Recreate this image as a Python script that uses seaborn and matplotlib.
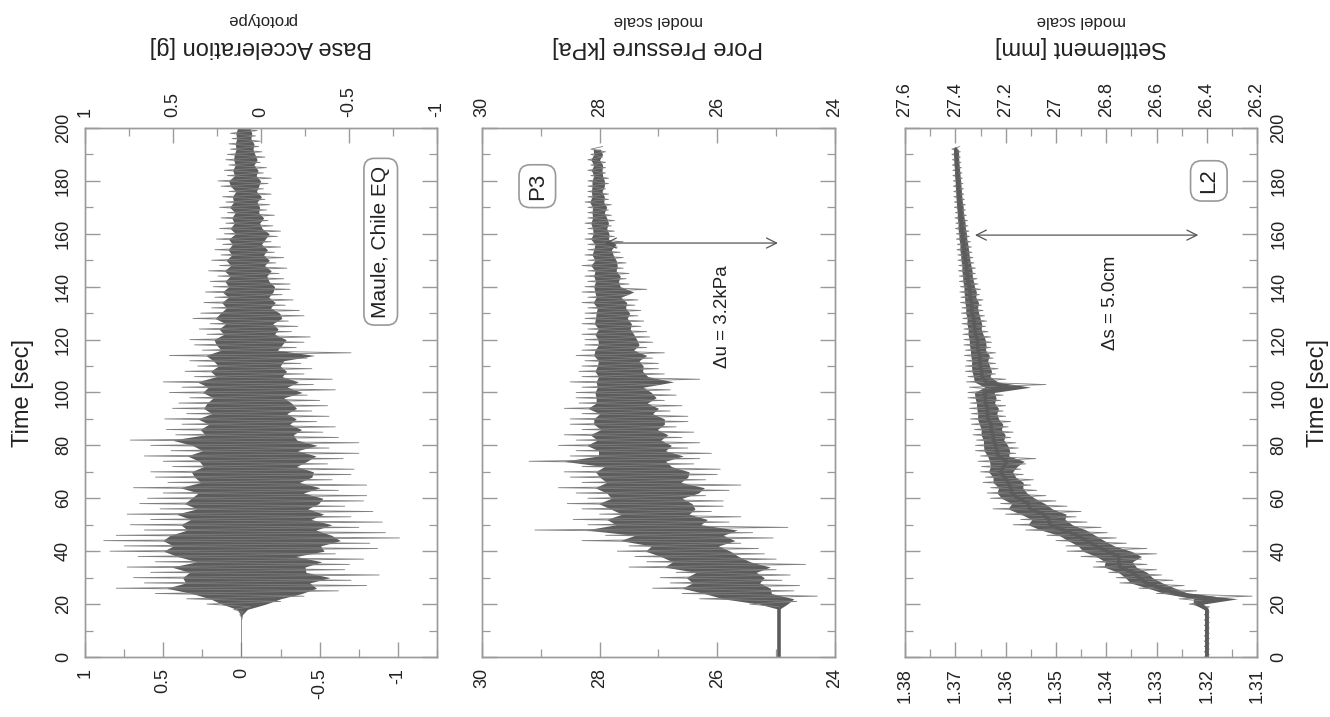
import numpy as np
import matplotlib
matplotlib.use("Agg")
import matplotlib.pyplot as plt
import seaborn as sns
from matplotlib.ticker import MultipleLocator

# ---- data read off the (rotated) reference figure ----
# every 2 s: upper and lower peaks of the recorded signal
acc_t = np.arange(0, 201, 2)
acc_hi = [0, 0, 0, 0, 0, 0, 0, 0, 0.01, 0.05,
          0.22, 0.35, 0.55, 0.80, 0.62, 0.69, 0.58, 0.73, 0.55, 0.66,
          0.84, 0.75, 0.88, 0.80, 0.62, 0.71, 0.58, 0.73, 0.52, 0.65,
          0.60, 0.50, 0.69, 0.47, 0.55, 0.58, 0.44, 0.50, 0.62, 0.45,
          0.58, 0.71, 0.42, 0.48, 0.38, 0.49, 0.35, 0.44, 0.40, 0.33,
          0.46, 0.38, 0.50, 0.30, 0.36, 0.28, 0.33, 0.46, 0.25, 0.30,
          0.33, 0.22, 0.27, 0.20, 0.31, 0.26, 0.19, 0.24, 0.17, 0.23,
          0.18, 0.20, 0.15, 0.21, 0.14, 0.19, 0.13, 0.17, 0.12, 0.16,
          0.11, 0.14, 0.10, 0.13, 0.09, 0.14, 0.10, 0.12, 0.08, 0.13,
          0.15, 0.09, 0.11, 0.08, 0.10, 0.09, 0.07, 0.08, 0.06, 0.07,
          0.05]
acc_lo = [0, 0, 0, 0, 0, 0, 0, 0, -0.01, -0.06,
          -0.25, -0.40, -0.62, -0.80, -0.70, -0.88, -0.66, -0.69, -0.78, -0.60,
          -0.87, -0.82, -1.01, -0.92, -0.75, -0.90, -0.70, -0.84, -0.66, -0.78,
          -0.80, -0.62, -0.80, -0.58, -0.70, -0.72, -0.55, -0.65, -0.75, -0.56,
          -0.75, -0.62, -0.52, -0.60, -0.48, -0.56, -0.45, -0.55, -0.50, -0.42,
          -0.60, -0.46, -0.58, -0.40, -0.45, -0.38, -0.42, -0.70, -0.35, -0.40,
          -0.44, -0.32, -0.36, -0.30, -0.40, -0.37, -0.28, -0.33, -0.26, -0.31,
          -0.31, -0.27, -0.24, -0.29, -0.22, -0.27, -0.21, -0.25, -0.19, -0.23,
          -0.25, -0.20, -0.17, -0.21, -0.16, -0.18, -0.15, -0.19, -0.14, -0.17,
          -0.19, -0.14, -0.16, -0.12, -0.15, -0.13, -0.11, -0.12, -0.09, -0.10,
          -0.08]

pp_t = np.arange(0, 193, 2)
pp_hi = [24.95] * 10 + [
    25.45, 26.3, 26.6, 27.1, 26.8, 26.97, 26.7, 27.5, 27.2, 27.4,
    27.7, 27.5, 28.3, 27.9, 29.1, 28.2, 28.45, 28.0, 28.3, 28.55,
    28.2, 28.4, 28.7, 28.3, 28.5, 28.6, 28.3, 29.2, 28.5, 28.4,
    28.7, 28.4, 28.6, 28.3, 28.5, 28.5, 28.3, 28.6, 28.35, 28.4,
    28.4, 28.3, 28.5, 28.3, 28.35, 28.3, 28.25, 28.4, 28.3, 28.25,
    28.25, 28.3, 28.2, 28.3, 28.25, 28.25, 28.2, 28.3, 28.2, 28.3,
    28.25, 28.2, 28.25, 28.2, 28.3, 28.2, 28.25, 28.2, 28.2, 28.25,
    28.2, 28.2, 28.25, 28.2, 28.2, 28.2, 28.25, 28.2, 28.2, 28.2,
    28.2, 28.15, 28.2, 28.15, 28.2, 28.15, 28.15]
pp_lo = [24.95] * 10 + [
    24.65, 24.3, 24.7, 24.6, 24.9, 24.76, 25.0, 24.5, 25.0, 25.2,
    25.3, 25.6, 25.05, 25.4, 24.8, 25.8, 25.6, 26.1, 25.9, 25.9,
    26.2, 25.8, 25.6, 26.2, 26.0, 25.95, 26.4, 26.3, 26.1, 26.5,
    26.3, 26.6, 26.4, 26.7, 26.5, 26.5, 26.8, 26.6, 26.9, 26.7,
    26.8, 27.0, 26.3, 26.9, 27.0, 27.0, 27.1, 26.9, 27.2, 27.1,
    27.15, 27.2, 27.3, 27.25, 27.35, 27.3, 27.4, 27.35, 27.5, 27.2,
    27.5, 27.55, 27.5, 27.6, 27.55, 27.6, 27.65, 27.7, 27.6, 27.75,
    27.75, 27.8, 27.75, 27.8, 27.85, 27.8, 27.85, 27.85, 27.9, 27.85,
    27.85, 27.9, 27.9, 27.9, 27.95, 27.9, 27.95]

st_t = np.arange(0, 193, 2)
st_hi = [1.3205] * 10 + [
    1.3235, 1.3255, 1.3300, 1.3335, 1.3373, 1.3380, 1.3395, 1.3426, 1.3420, 1.3450,
    1.3478, 1.3480, 1.3500, 1.3518, 1.3560, 1.3585, 1.3570, 1.3600, 1.3625, 1.3610,
    1.3630, 1.3637, 1.3630, 1.3645, 1.3640, 1.3650, 1.3648, 1.3655, 1.3650, 1.3660,
    1.3660, 1.3658, 1.3665, 1.3662, 1.3668, 1.3670, 1.3668, 1.3672, 1.3670, 1.3675,
    1.3675, 1.3672, 1.3678, 1.3675, 1.3680, 1.3680, 1.3678, 1.3682, 1.3680, 1.3683,
    1.3683, 1.3685, 1.3683, 1.3687, 1.3685, 1.3688, 1.3687, 1.3690, 1.3689, 1.3691,
    1.3690, 1.3692, 1.3692, 1.3694, 1.3693, 1.3695, 1.3695, 1.3697, 1.3696, 1.3698,
    1.3698, 1.3700, 1.3699, 1.3701, 1.3700, 1.3702, 1.3702, 1.3703, 1.3703, 1.3704,
    1.3704, 1.3705, 1.3705, 1.3706, 1.3706, 1.3707, 1.3707]
st_lo = [1.3195] * 10 + [
    1.3200, 1.3110, 1.3220, 1.3245, 1.3267, 1.3290, 1.3300, 1.3319, 1.3330, 1.3300,
    1.3319, 1.3360, 1.3380, 1.3398, 1.3410, 1.3438, 1.3460, 1.3450, 1.3478, 1.3500,
    1.3520, 1.3538, 1.3550, 1.3545, 1.3565, 1.3570, 1.3560, 1.3540, 1.3580, 1.3575,
    1.3580, 1.3590, 1.3585, 1.3595, 1.3590, 1.3600, 1.3605, 1.3600, 1.3610, 1.3605,
    1.3610, 1.3520, 1.3600, 1.3620, 1.3615, 1.3620, 1.3625, 1.3620, 1.3630, 1.3628,
    1.3630, 1.3635, 1.3640, 1.3638, 1.3642, 1.3645, 1.3648, 1.3645, 1.3652, 1.3650,
    1.3655, 1.3657, 1.3660, 1.3660, 1.3663, 1.3665, 1.3667, 1.3668, 1.3670, 1.3672,
    1.3673, 1.3675, 1.3676, 1.3678, 1.3680, 1.3680, 1.3682, 1.3683, 1.3684, 1.3685,
    1.3686, 1.3687, 1.3688, 1.3689, 1.3690, 1.3690, 1.3691]

time_ticks = list(range(0, 201, 20))
acc_ticks = [1, 0.5, 0, -0.5, -1]
pp_ticks = [30, 28, 26, 24]
st_ticks = [1.38, 1.37, 1.36, 1.35, 1.34, 1.33, 1.32, 1.31]
st_mm_ticks = [27.6, 27.4, 27.2, 27.0, 26.8, 26.6, 26.4, 26.2]

sns.set_theme(style="ticks")
plt.rcParams['font.family'] = ['Liberation Sans', 'DejaVu Sans']
plt.rcParams['axes.unicode_minus'] = False

GRID = '#9a9a9a'
INK = '#222222'
LINE = '#5c5c5c'


def zigzag(t, hi, lo):
    # alternate upper/lower peaks so the record reads as an oscillation
    tt = np.column_stack([t, t + 1]).ravel()
    vv = np.column_stack([hi, lo]).ravel()
    return tt, vv


def draw_signal(ax, t, hi, lo, trend_until=None):
    hi = np.asarray(hi)
    lo = np.asarray(lo)
    assert len(hi) == len(lo) == len(t)
    tt, vv = zigzag(t, hi, lo)
    sns.lineplot(x=vv, y=tt, sort=False, estimator=None, orient="y",
                 color='#7e7e7e', lw=0.6, ax=ax)
    mid = (hi + lo) / 2
    ax.fill_betweenx(t, mid + 0.6 * (hi - mid), mid + 0.6 * (lo - mid),
                     color=LINE, lw=0)
    if trend_until is not None:
        keep = t <= trend_until
        sns.lineplot(x=mid[keep], y=t[keep], sort=False, estimator=None,
                     orient="y", color=LINE, lw=2.6, ax=ax)


def style(ax, axt, bticks, blim, tticks, tlim, bminor, tminor, side):
    ax.set_ylim(0, 200)
    ax.set_yticks(time_ticks)
    ax.yaxis.set_minor_locator(MultipleLocator(10))
    ax.set_xlim(*blim)
    ax.set_xticks(bticks, labels=[f"{v:g}" for v in bticks])
    ax.xaxis.set_minor_locator(MultipleLocator(bminor))
    axt.set_xlim(*tlim)
    axt.set_xticks(tticks, labels=[f"{v:g}" for v in tticks])
    axt.xaxis.set_minor_locator(MultipleLocator(tminor))
    for a in (ax, axt):
        for s in a.spines.values():
            s.set_color(GRID)
            s.set_linewidth(1.0)
        a.tick_params(which='both', direction='in', color=GRID,
                      labelcolor=INK, labelsize=13)
        a.tick_params(which='major', length=10.5, width=1.0)
        a.tick_params(which='minor', length=5.5, width=0.9)
        a.set_xlabel('')
        a.set_ylabel('')
    ax.tick_params(axis='x', top=False, labelrotation=90, pad=8)
    axt.tick_params(axis='x', labelrotation=90, pad=8)
    ax.tick_params(axis='y', which='both', left=True, right=True,
                   labelleft=(side == 'left'), labelright=(side == 'right'),
                   labelrotation=90, pad=9.5)
    for tk in ax.yaxis.get_major_ticks():
        tk.label1.set_va('center')
        tk.label2.set_va('center')


fig = plt.figure(figsize=(13.3, 7.17), dpi=100)
ax1 = fig.add_axes([0.0639, 0.0837, 0.2647, 0.7378])
ax2 = fig.add_axes([0.3624, 0.0837, 0.2654, 0.7378])
ax3 = fig.add_axes([0.6805, 0.0837, 0.2647, 0.7378])

draw_signal(ax1, acc_t, acc_hi, acc_lo)
draw_signal(ax2, pp_t, pp_hi, pp_lo, trend_until=19)
draw_signal(ax3, st_t, st_hi, st_lo, trend_until=200)

ax1t = ax1.twiny()
ax2t = ax2.twiny()
ax3t = ax3.twiny()
style(ax1, ax1t, acc_ticks, (1, -1.25), acc_ticks, (1, -1), 0.25, 0.25, 'left')
style(ax2, ax2t, pp_ticks, (30, 24), pp_ticks, (30, 24), 1, 1, 'none')
style(ax3, ax3t, st_ticks, (1.38, 1.31), st_mm_ticks, (27.6, 26.2),
      0.005, 0.1, 'right')

box = dict(boxstyle='round,pad=0.35,rounding_size=0.5', fc='white',
           ec='#999999', lw=1.2)
ax1.text(-0.89, 157, "Maule, Chile EQ", rotation=90, ha='center',
         va='center', fontsize=15, color=INK, bbox=box)
ax2.text(29.06, 178, "P3", rotation=90, ha='center', va='center',
         fontsize=16, color=INK, bbox=box)
ax3.text(1.3196, 180, "L2", rotation=90, ha='center', va='center',
         fontsize=16, color=INK, bbox=box)

arrow = dict(arrowstyle='<->,head_length=0.6,head_width=0.3', color='#555555',
             lw=0.9, shrinkA=0, shrinkB=0)
ax2.annotate("", xy=(24.97, 156.5), xytext=(27.91, 156.5), arrowprops=arrow)
ax2.text(25.92, 128.5, "\u0394u = 3.2kPa", rotation=90, ha='center',
         va='center', fontsize=13.5, color=INK)
ax3.annotate("", xy=(1.3217, 159.5), xytext=(1.3661, 159.5), arrowprops=arrow)
ax3.text(1.3392, 134, "\u0394s = 5.0cm", rotation=90, ha='center',
         va='center', fontsize=13.5, color=INK)

# axis titles (upside down, as in the source scan)
for xc, title, sub in [(261, "Base Acceleration [g]", "prototype"),
                       (658, "Pore Pressure [kPa]", "model scale"),
                       (1081, "Settlement [mm]", "model scale")]:
    fig.text(xc / 1330, 1 - 47 / 717, title, rotation=180, ha='center',
             va='center', fontsize=17, color=INK)
    fig.text(xc / 1330, 1 - 20 / 717, sub, rotation=180, ha='center',
             va='center', fontsize=12, color=INK)

fig.text(23 / 1330, 1 - 393 / 717, "Time [sec]", rotation=90, ha='center',
         va='center', fontsize=17, color=INK)
fig.text(1318 / 1330, 1 - 393 / 717, "Time [sec]", rotation=90, ha='center',
         va='center', fontsize=17, color=INK)

fig.savefig("out.png", dpi=100, facecolor='white')
